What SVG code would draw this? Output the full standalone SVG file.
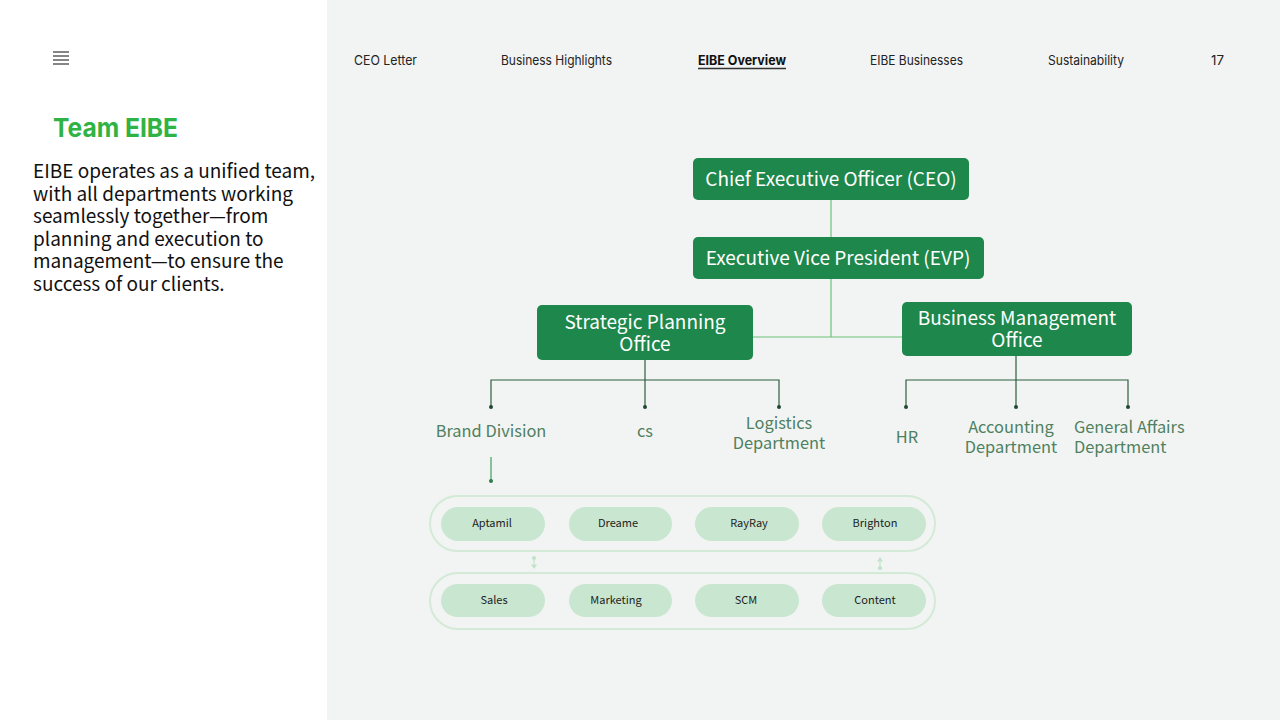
<svg xmlns="http://www.w3.org/2000/svg" width="1280" height="720" viewBox="0 0 1280 720">
<style>
.nav{font-family:Inter,"Noto Sans",sans-serif;font-size:13px;fill:#222;}
.body{font-family:"Noto Sans CJK KR","Noto Sans",sans-serif;font-size:19px;fill:#111;}
.nodeRect{fill:#1e874b;}
.nodeText{font-family:"Noto Sans CJK KR","Noto Sans",sans-serif;font-size:19px;fill:#fff;text-anchor:middle;}
.lbl{font-family:"Noto Sans CJK KR","Noto Sans",sans-serif;font-size:16.4px;fill:#4f8060;text-anchor:middle;}
.lbs{font-family:"Noto Sans CJK KR","Noto Sans",sans-serif;font-size:16.4px;fill:#4f8060;text-anchor:start;}
.pill{fill:#c9e6d0;}
.pillText{font-family:"Noto Sans CJK KR","Noto Sans",sans-serif;font-size:11px;fill:#222;text-anchor:middle;}
.cont{fill:none;stroke:#d3ead7;stroke-width:2;}
.lc{stroke:#6cc07a;stroke-width:1.2;fill:none;}
.dk{stroke:#2d5e3e;stroke-width:1.2;fill:none;}
.dot{fill:#1f4a30;}
</style>
<rect x="0" y="0" width="1280" height="720" fill="#ffffff"/>
<rect x="327" y="0" width="953" height="720" fill="#f2f4f3"/>

<g id="menu" stroke="#444" stroke-width="1.3">
<line x1="53" y1="52" x2="69" y2="52"/>
<line x1="53" y1="56" x2="69" y2="56"/>
<line x1="53" y1="60" x2="69" y2="60"/>
<line x1="53" y1="64" x2="69" y2="64"/>
</g>

<g id="nav">
<text class="nav" x="354" y="65" textLength="63" lengthAdjust="spacingAndGlyphs">CEO Letter</text>
<text class="nav" x="501" y="65" textLength="111" lengthAdjust="spacingAndGlyphs">Business Highlights</text>
<text class="nav" x="698" y="65" textLength="88" lengthAdjust="spacingAndGlyphs" font-weight="bold" style="fill:#111">EIBE Overview</text>
<line x1="698" y1="68.5" x2="786" y2="68.5" stroke="#333" stroke-width="1.5"/>
<text class="nav" x="870" y="65" textLength="93" lengthAdjust="spacingAndGlyphs">EIBE Businesses</text>
<text class="nav" x="1048" y="65" textLength="76" lengthAdjust="spacingAndGlyphs">Sustainability</text>
<text class="nav" x="1211" y="65" textLength="13" lengthAdjust="spacingAndGlyphs">17</text>
</g>

<g id="intro">
<text x="53" y="137" font-family="Inter,'Noto Sans',sans-serif" font-size="26" font-weight="bold" fill="#2fb344" textLength="125" lengthAdjust="spacingAndGlyphs">Team EIBE</text>
<text class="body" x="33" y="178">EIBE operates as a unified team,</text>
<text class="body" x="33" y="200.5">with all departments working</text>
<text class="body" x="33" y="223">seamlessly together—from</text>
<text class="body" x="33" y="245.5">planning and execution to</text>
<text class="body" x="33" y="268">management—to ensure the</text>
<text class="body" x="33" y="290.5">success of our clients.</text>
</g>

<g id="connectors">
<line class="lc" x1="831" y1="200" x2="831" y2="237"/>
<line class="lc" x1="831" y1="279" x2="831" y2="337"/>
<line class="lc" x1="753" y1="337" x2="902" y2="337"/>
<path class="dk" d="M645 360 V380 M491 407 V380 H779 V407 M645 380 V407"/>
<path class="dk" d="M1016 356 V407 M906 407 V380 H1128 V407"/>
<circle class="dot" cx="491" cy="407" r="2"/>
<circle class="dot" cx="645" cy="407" r="2"/>
<circle class="dot" cx="779" cy="407" r="2"/>
<circle class="dot" cx="906" cy="407" r="2"/>
<circle class="dot" cx="1016" cy="407" r="2"/>
<circle class="dot" cx="1128" cy="407" r="2"/>
<line x1="491" y1="457" x2="491" y2="480" stroke="#3e9e5e" stroke-width="1.2"/>
<circle cx="491" cy="481" r="2" fill="#2e7e4a"/>
<g stroke="#c3e3ca" stroke-width="1.2" fill="#c3e3ca">
<line x1="534" y1="557" x2="534" y2="567"/>
<circle cx="534" cy="558" r="1.5"/>
<path d="M532 565 L534 568 L536 565 Z"/>
<line x1="880" y1="558" x2="880" y2="569"/>
<path d="M878 561 L880 558 L882 561 Z"/>
<circle cx="880" cy="568" r="1.5"/>
</g>
</g>

<g id="ceo">
<rect class="nodeRect" x="693" y="158" width="276" height="42" rx="5"/>
<text class="nodeText" x="831" y="186">Chief Executive Officer (CEO)</text>
</g>
<g id="evp">
<rect class="nodeRect" x="693" y="237" width="291" height="42" rx="5"/>
<text class="nodeText" x="838" y="265">Executive Vice President (EVP)</text>
</g>
<g id="spo">
<rect class="nodeRect" x="537" y="305" width="216" height="55" rx="5"/>
<text class="nodeText" x="645" y="329">Strategic Planning</text>
<text class="nodeText" x="645" y="351">Office</text>
</g>
<g id="bmo">
<rect class="nodeRect" x="902" y="302" width="230" height="54" rx="5"/>
<text class="nodeText" x="1017" y="325">Business Management</text>
<text class="nodeText" x="1017" y="347">Office</text>
</g>

<g id="brand-division"><text class="lbl" x="491" y="437">Brand Division</text></g>
<g id="cs"><text class="lbl" x="645" y="437">cs</text></g>
<g id="logistics"><text class="lbl" x="779" y="429">Logistics</text><text class="lbl" x="779" y="449">Department</text></g>
<g id="hr"><text class="lbl" x="907" y="443">HR</text></g>
<g id="accounting"><text class="lbl" x="1011" y="433">Accounting</text><text class="lbl" x="1011" y="453">Department</text></g>
<g id="general-affairs"><text class="lbs" x="1074" y="433">General Affairs</text><text class="lbs" x="1074" y="453">Department</text></g>

<g id="brands">
<rect class="cont" x="430" y="496" width="505" height="55" rx="27.5"/>
<rect class="pill" x="441" y="507" width="104" height="34" rx="17"/>
<text class="pillText" x="492" y="527">Aptamil</text>
<rect class="pill" x="569" y="507" width="103" height="34" rx="17"/>
<text class="pillText" x="618" y="527">Dreame</text>
<rect class="pill" x="695" y="507" width="104" height="34" rx="17"/>
<text class="pillText" x="749" y="527">RayRay</text>
<rect class="pill" x="822" y="507" width="104" height="34" rx="17"/>
<text class="pillText" x="875" y="527">Brighton</text>
</g>
<g id="functions">
<rect class="cont" x="430" y="573" width="505" height="56" rx="28"/>
<rect class="pill" x="441" y="584" width="104" height="33" rx="16.5"/>
<text class="pillText" x="494" y="604">Sales</text>
<rect class="pill" x="569" y="584" width="103" height="33" rx="16.5"/>
<text class="pillText" x="616" y="604">Marketing</text>
<rect class="pill" x="695" y="584" width="104" height="33" rx="16.5"/>
<text class="pillText" x="746" y="604">SCM</text>
<rect class="pill" x="822" y="584" width="104" height="33" rx="16.5"/>
<text class="pillText" x="875" y="604">Content</text>
</g>
</svg>
